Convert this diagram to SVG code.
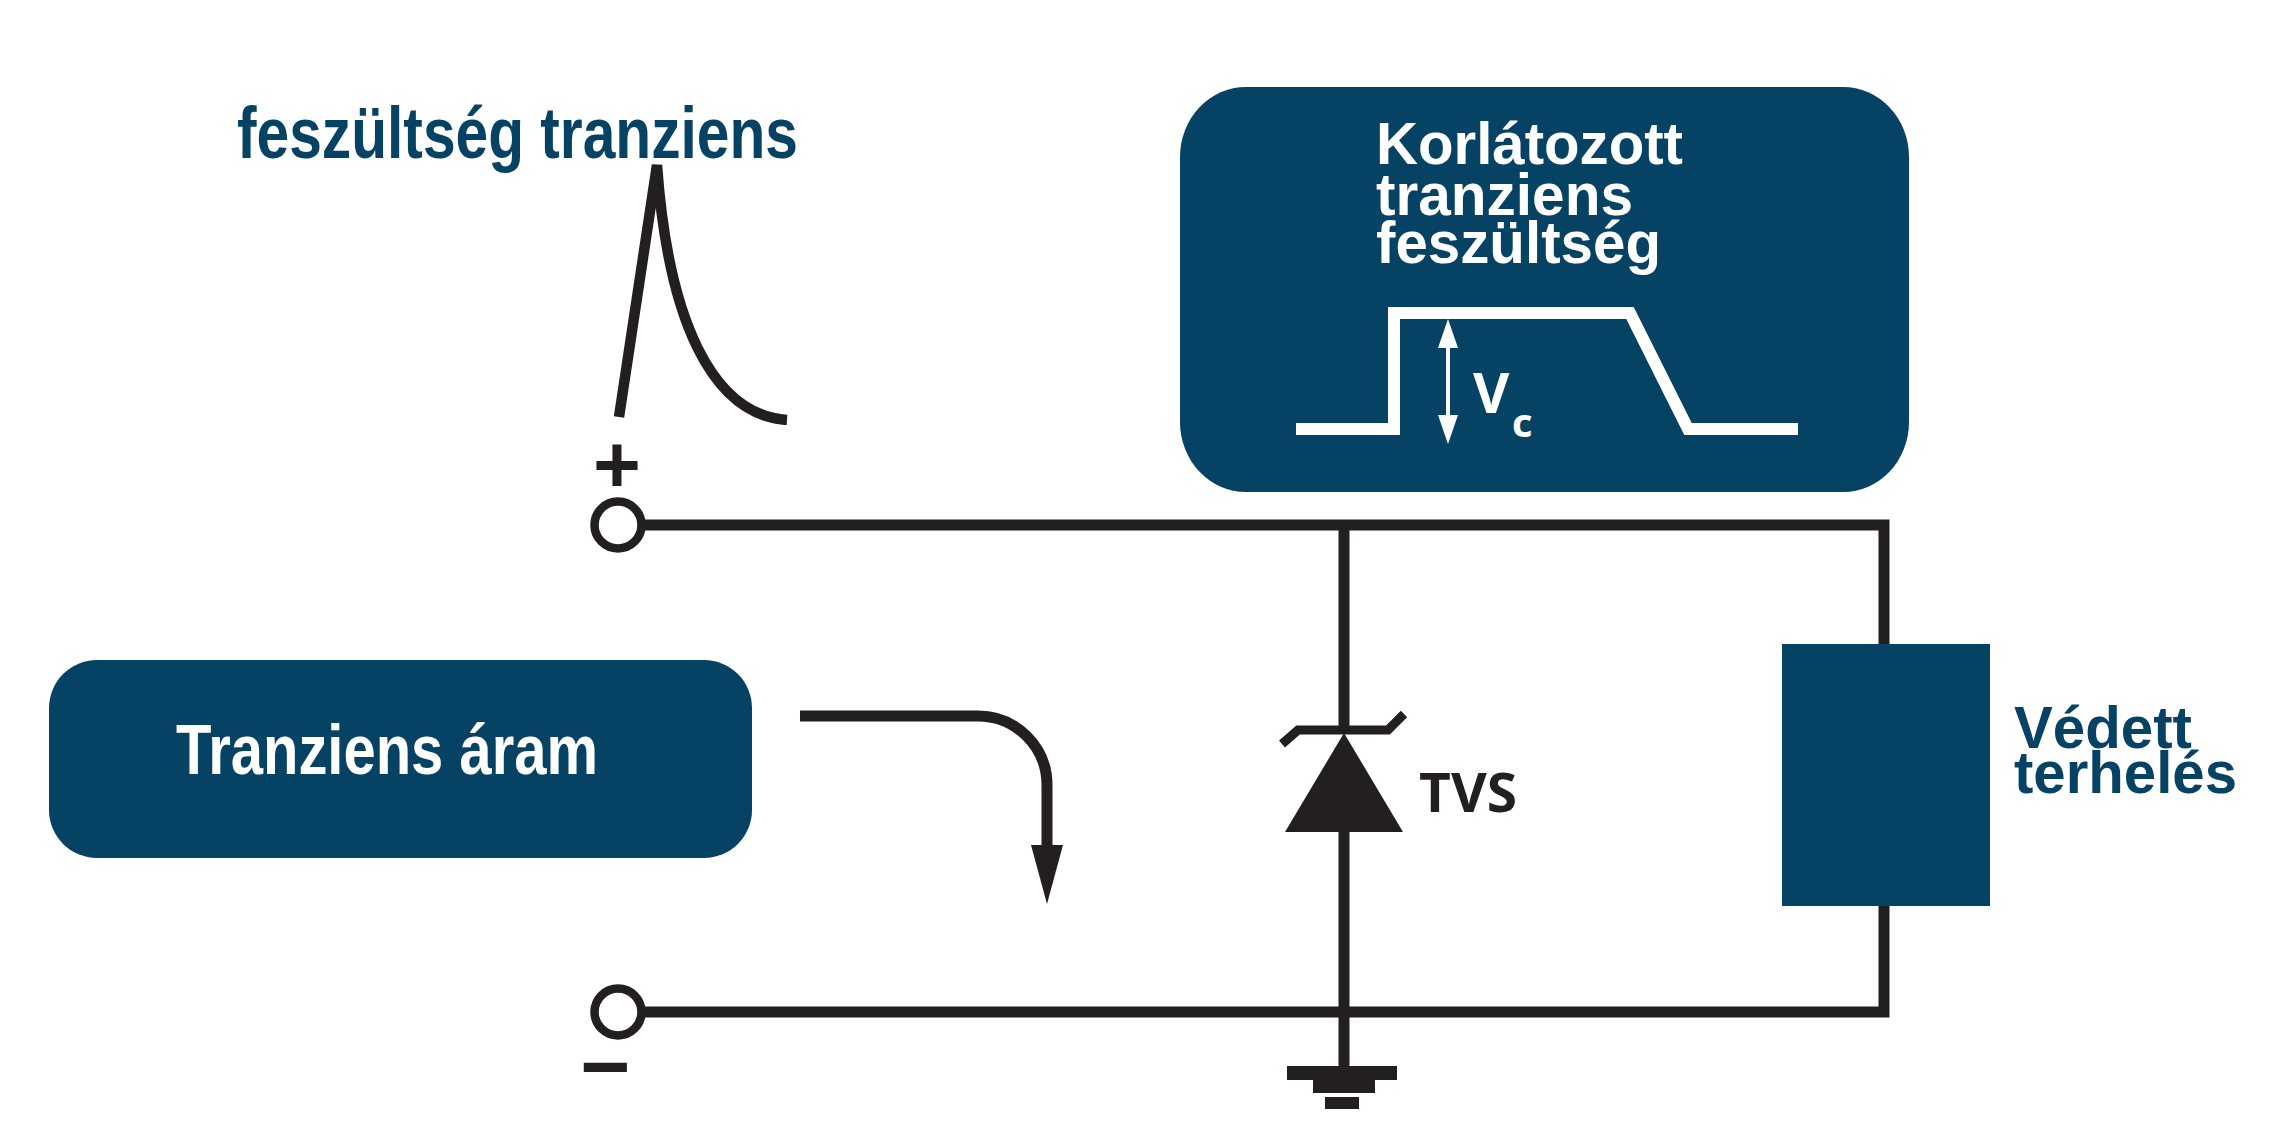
<svg xmlns="http://www.w3.org/2000/svg" width="2275" height="1122" viewBox="0 0 2275 1122">
<style>
.box{fill:#064263}
.wire{fill:none;stroke:#231f20;stroke-width:11;stroke-linejoin:miter;stroke-linecap:butt}
.blk{fill:#231f20}
.wt{fill:none;stroke:#ffffff;stroke-width:12;stroke-linejoin:miter}
.bt{font-family:"Liberation Sans",Arial,sans-serif;font-weight:bold;fill:#064263}
.wtx{font-family:"Liberation Sans",Arial,sans-serif;font-weight:bold;fill:#ffffff}
.os{font-family:"Open Sans","DejaVu Sans",sans-serif}
</style>
<rect width="2275" height="1122" fill="#ffffff"/>

<g id="connectors">
  <polyline class="wire" points="642,525 1884,525 1884,644"/>
  <polyline class="wire" points="642,1012 1884,1012 1884,906"/>
  <line class="wire" x1="1344" y1="525" x2="1344" y2="734"/>
  <line class="wire" x1="1344" y1="830" x2="1344" y2="1067"/>
  <path class="wire" d="M800,716 H978 A69,69 0 0 1 1047,785 V850"/>
  <polygon class="blk" points="1031,845 1063,845 1047,904"/>
</g>

<g id="terminal-plus">
  <circle cx="618" cy="525" r="23.5" fill="#ffffff" stroke="#231f20" stroke-width="8.5"/>
  <text x="617" y="492" text-anchor="middle" font-family="Liberation Sans,Arial,sans-serif" font-weight="bold" font-size="82" fill="#231f20">+</text>
</g>

<g id="terminal-minus">
  <circle cx="618" cy="1012" r="23.5" fill="#ffffff" stroke="#231f20" stroke-width="8.5"/>
  <text x="605" y="1096" text-anchor="middle" font-family="Liberation Sans,Arial,sans-serif" font-weight="bold" font-size="86" fill="#231f20">−</text>
</g>

<g id="voltage-transient">
  <text class="bt" x="237" y="158" font-size="72" textLength="561" lengthAdjust="spacingAndGlyphs">feszültség tranziens</text>
  <path d="M619,417 L657,165 C668,320 712,415 787,420" fill="none" stroke="#231f20" stroke-width="10.5" stroke-linejoin="miter"/>
</g>

<g id="clamped-voltage">
  <rect class="box" x="1180" y="87" width="729" height="405" rx="66" ry="70"/>
  <text class="wtx" x="1376" y="164" font-size="59" textLength="307" lengthAdjust="spacingAndGlyphs">Korlátozott</text>
  <text class="wtx" x="1376" y="215" font-size="59" textLength="257" lengthAdjust="spacingAndGlyphs">tranziens</text>
  <text class="wtx" x="1376" y="263" font-size="59" textLength="285" lengthAdjust="spacingAndGlyphs">feszültség</text>
  <polyline class="wt" points="1296,429 1394,429 1394,313 1630,313 1688,429 1798,429"/>
  <line x1="1448" y1="340" x2="1448" y2="420" stroke="#ffffff" stroke-width="4"/>
  <polygon points="1448,319 1458,348 1438,348" fill="#ffffff"/>
  <polygon points="1448,444 1458,415 1438,415" fill="#ffffff"/>
  <text class="os" x="1473" y="413" font-size="56" font-weight="bold" fill="#ffffff">V</text>
  <text class="os" x="1512" y="437" font-size="40" font-weight="bold" fill="#ffffff">c</text>
</g>

<g id="transient-current">
  <rect class="box" x="49" y="660" width="703" height="198" rx="48" ry="48"/>
  <text class="wtx" x="176" y="774" font-size="70" textLength="422" lengthAdjust="spacingAndGlyphs">Tranziens áram</text>
</g>

<g id="tvs">
  <polyline points="1282,744 1298,730 1388,730 1404,714" fill="none" stroke="#231f20" stroke-width="9"/>
  <polygon class="blk" points="1344,733 1403,832 1285,832"/>
  <text class="os" x="1419" y="812" font-size="54" font-weight="bold" fill="#231f20" textLength="98" lengthAdjust="spacingAndGlyphs">TVS</text>
</g>

<g id="ground">
  <rect class="blk" x="1287" y="1066" width="110" height="14"/>
  <rect class="blk" x="1313" y="1080" width="62" height="13"/>
  <rect class="blk" x="1325" y="1097" width="34" height="12"/>
</g>

<g id="load">
  <rect class="box" x="1782" y="644" width="208" height="262"/>
  <text class="bt" x="2014" y="748" font-size="60" textLength="178" lengthAdjust="spacingAndGlyphs">Védett</text>
  <text class="bt" x="2014" y="793" font-size="60" textLength="223" lengthAdjust="spacingAndGlyphs">terhelés</text>
</g>
</svg>
